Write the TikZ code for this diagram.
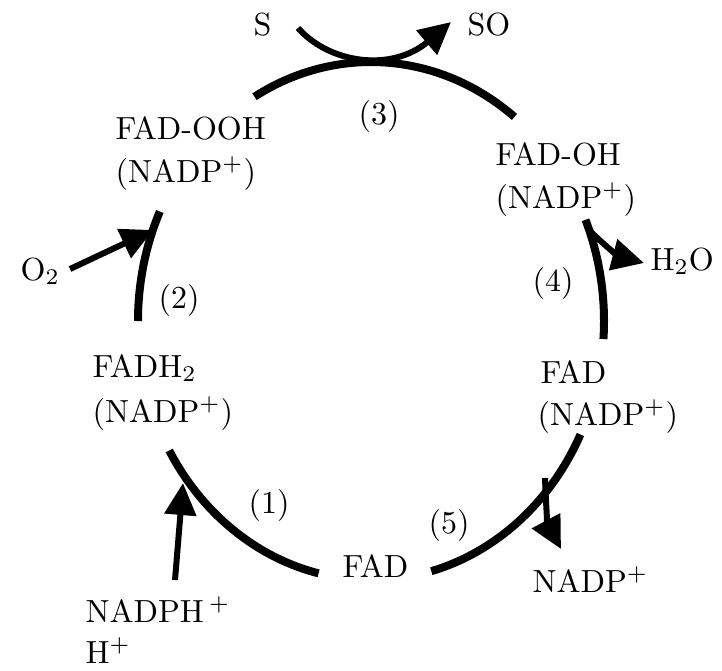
\documentclass[tikz,border=0pt]{standalone}
\usetikzlibrary{arrows.meta,calc}
\begin{document}
\begin{tikzpicture}[x=1pt,y=1pt,
  lbl/.style={inner sep=0pt, anchor=base west, font=\fontsize{10}{12}\selectfont, scale=3.2, transform shape},
  cyc/.style={line width=8pt},
  rxn/.style={line width=6pt, -{Triangle[length=32pt,width=31pt]}},
]
\useasboundingbox (0,0) rectangle (722,-670);
\coordinate (C) at (371,-321);
% labels
\node[lbl] (s) at (253,-35) {S};
\node[lbl] (so) at (467,-35) {SO};
\node[lbl] (r3) at (358,-124) {(3)};
\node[lbl] (fadooh) at (115,-139) {FAD-OOH};
\node[lbl] (fadoohn) at (115,-182) {(NADP\textsuperscript{+})};
\node[lbl] (fadoh) at (495,-165) {FAD-OH};
\node[lbl] (fadohn) at (495,-208) {(NADP\textsuperscript{+})};
\node[lbl] (o2) at (20,-280) {O\textsubscript{2}};
\node[lbl] (r2) at (158,-308) {(2)};
\node[lbl] (h2o) at (650,-270) {H\textsubscript{2}O};
\node[lbl] (r4) at (532,-291) {(4)};
\node[lbl] (fadh) at (92,-377) {FADH\textsubscript{2}};
\node[lbl] (fadhn) at (92,-422) {(NADP\textsuperscript{+})};
\node[lbl] (fadr) at (540,-383) {FAD};
\node[lbl] (fadrn) at (537,-425) {(NADP\textsuperscript{+})};
\node[lbl] (r1) at (248,-513) {(1)};
\node[lbl] (r5) at (428,-533) {(5)};
\node[lbl] (fad) at (342,-577) {FAD};
\node[lbl] (nadp) at (532,-592) {NADP\textsuperscript{+}};
\node[lbl] (nadph) at (85,-622) {NADPH\,\textsuperscript{+}};
\node[lbl] (hplus) at (85,-663) {H\textsuperscript{+}};
% cycle arcs
\draw[cyc] (C) ++(120:233pt and 259pt) arc[start angle=120,end angle=52,x radius=233pt,y radius=259pt];
\draw[cyc] (C) ++(23:233pt and 259pt) arc[start angle=23,end angle=-4,x radius=233pt,y radius=259pt];
\draw[cyc] (C) ++(334:233pt and 259pt) arc[start angle=334,end angle=285,x radius=233pt,y radius=259pt];
\draw[cyc] (C) ++(257:233pt and 259pt) arc[start angle=257,end angle=210,x radius=233pt,y radius=259pt];
\draw[cyc] (C) ++(180:233pt and 259pt) arc[start angle=180,end angle=155,x radius=233pt,y radius=259pt];
% reaction arrows
\coordinate (sst) at (298,-28);
\coordinate (stip) at (451,-22);
\draw[rxn] (sst) .. controls (330,-64) and (392,-72) .. (stip);
\coordinate (o2s) at (70,-269);
\coordinate (o2t) at (153,-230);
\draw[rxn] (o2s) -- (o2t);
\coordinate (ns) at (175,-580);
\coordinate (nt) at (183,-483);
\draw[rxn] (ns) -- (nt);
\coordinate (hs) at (590,-231);
\coordinate (ht) at (644,-263);
\draw[rxn] (hs) to[out=-45,in=165] (ht);
\coordinate (ps) at (545,-478);
\coordinate (pt) at (561,-549);
\draw[rxn] (ps) to[out=-88,in=118] (pt);
\end{tikzpicture}
\end{document}
